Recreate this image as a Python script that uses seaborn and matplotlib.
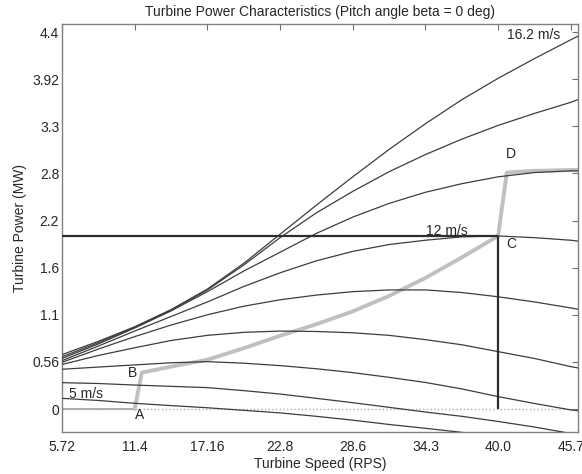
import pandas as pd
import seaborn as sns
import matplotlib.pyplot as plt

##velocidad de la turbina (RPS) donde se leyeron las curvas
speed = [5.72, 8.58, 11.44, 14.3, 17.16, 20.02, 22.88, 25.74, 28.6, 31.46,
         34.32, 37.18, 40.04, 42.9, 45.76, 46.3]

##potencia (MW) para cada velocidad de viento
p_5 = [0.125, 0.10, 0.067, 0.04, 0.015, -0.015, -0.045, -0.085, -0.13, -0.18,
       -0.225, -0.272, -0.33, -0.39, -0.45, -0.46]
p_6_4 = [0.308, 0.298, 0.28, 0.265, 0.25, 0.215, 0.175, 0.125, 0.074, 0.02,
         -0.035, -0.085, -0.145, -0.21, -0.285, -0.30]
p_7_8 = [0.464, 0.49, 0.515, 0.54, 0.553, 0.535, 0.507, 0.47, 0.425, 0.37,
         0.31, 0.235, 0.145, 0.065, -0.01, -0.02]
p_9_2 = [0.52, 0.625, 0.715, 0.80, 0.86, 0.895, 0.91, 0.905, 0.89, 0.86,
         0.81, 0.75, 0.67, 0.59, 0.495, 0.48]
p_10_6 = [0.545, 0.70, 0.845, 0.98, 1.10, 1.20, 1.275, 1.33, 1.37, 1.39,
          1.39, 1.36, 1.31, 1.25, 1.18, 1.165]
p_12 = [0.565, 0.735, 0.91, 1.08, 1.25, 1.43, 1.59, 1.73, 1.84, 1.92,
        1.97, 2.01, 2.02, 2.00, 1.97, 1.96]
p_13_4 = [0.59, 0.76, 0.945, 1.145, 1.37, 1.61, 1.83, 2.05, 2.24, 2.40,
          2.53, 2.63, 2.71, 2.76, 2.78, 2.78]
p_14_8 = [0.61, 0.775, 0.955, 1.155, 1.39, 1.68, 2.00, 2.29, 2.54, 2.77,
          2.97, 3.15, 3.31, 3.45, 3.58, 3.61]
p_16_2 = [0.635, 0.79, 0.96, 1.16, 1.40, 1.70, 2.04, 2.38, 2.71, 3.03,
          3.33, 3.61, 3.86, 4.09, 4.31, 4.35]

viento = ['5', '6.4', '7.8', '9.2', '10.6', '12', '13.4', '14.8', '16.2']
curvas = [p_5, p_6_4, p_7_8, p_9_2, p_10_6, p_12, p_13_4, p_14_8, p_16_2]

##tramo en cero antes de A
cero_speed = [5.72, 11.44]
cero_power = [0, 0]

##trayectoria de seguimiento A-B-C-D
track_speed = [11.44, 12.0, 14.3, 17.16, 20.02, 22.88, 25.74, 28.6, 31.46,
               34.32, 37.18, 40.04, 40.72, 42.9, 45.76, 46.3]
track_power = [0, 0.425, 0.495, 0.575, 0.71, 0.855, 0.99, 1.14, 1.32,
               1.53, 1.77, 2.02, 2.76, 2.78, 2.79, 2.79]

##punto C (potencia nominal)
c_speed = 40.04
c_power = 2.02

##ticks
x_ticks = [5.72, 11.44, 17.16, 22.88, 28.6, 34.32, 40.04, 45.76]
x_labels = ['5.72', '11.4', '17.16', '22.8', '28.6', '34.3', '40.0', '45.7']
y_ticks = [0, 0.55, 1.1, 1.65, 2.2, 2.75, 3.3, 3.85, 4.4]
y_labels = ['0', '0.56', '1.1', '1.6', '2.2', '2.8', '3.3', '3.92', '4.4']

df = pd.DataFrame({
    'speed': speed * len(viento),
    'power': [v for c in curvas for v in c],
    'wind': [w for w in viento for _ in speed],
})

sns.set_style('white')
plt.rcParams['font.family'] = ['Liberation Sans', 'DejaVu Sans']
plt.rcParams['font.size'] = 10

fig, ax = plt.subplots(figsize=(5.82, 4.74), dpi=100)
fig.subplots_adjust(left=0.1065, right=0.9926, bottom=0.0886, top=0.9487)

ax.plot([5.72, 46.3], [0, 0], color='#b0b0b0', lw=1, ls=':', zorder=1)
ax.plot(cero_speed, cero_power, color='#a8a8a8', lw=1.3, zorder=1.5)
sns.lineplot(ax=ax, x=track_speed, y=track_power, color='#c0c0c0', lw=2.8,
             sort=False, estimator=None, zorder=2)
sns.lineplot(ax=ax, data=df, x='speed', y='power', hue='wind',
             palette=['#3d3d3d'] * len(viento), lw=0.9, legend=False,
             estimator=None, zorder=3)
ax.hlines(c_power, 5.72, c_speed, color='#2e2e2e', lw=1.6, zorder=4)
ax.vlines(c_speed, 0, c_power, color='#2e2e2e', lw=1.6, zorder=4)

ax.text(11.85, -0.07, 'A', ha='center', va='center')
ax.text(11.27, 0.426, 'B', ha='center', va='center')
ax.text(41.1, 1.93, 'C', ha='center', va='center')
ax.text(41.03, 2.975, 'D', ha='center', va='center')
ax.text(7.63, 0.175, '5 m/s', ha='center', va='center')
ax.text(36.03, 2.075, '12 m/s', ha='center', va='center')
ax.text(42.81, 4.365, '16.2 m/s', ha='center', va='center')

ax.set_xlim(5.72, 46.3)
ax.set_ylim(-0.268, 4.49)
ax.set_xticks(x_ticks)
ax.set_xticklabels(x_labels)
ax.set_yticks(y_ticks)
ax.set_yticklabels(y_labels)
ax.tick_params(direction='in', length=4, width=0.8, color='#707070',
               top=True, right=True, labelsize=10)
ax.tick_params(axis='x', pad=6)
ax.tick_params(axis='y', pad=2)
for s in ax.spines.values():
    s.set_color('#808080')
    s.set_linewidth(1)

ax.set_xlabel('Turbine Speed (RPS)', labelpad=2)
ax.set_ylabel('Turbine Power (MW)', labelpad=4)
ax.set_title('Turbine Power Characteristics (Pitch angle beta = 0 deg)', fontsize=10)

plt.savefig('out.png', dpi=100)
